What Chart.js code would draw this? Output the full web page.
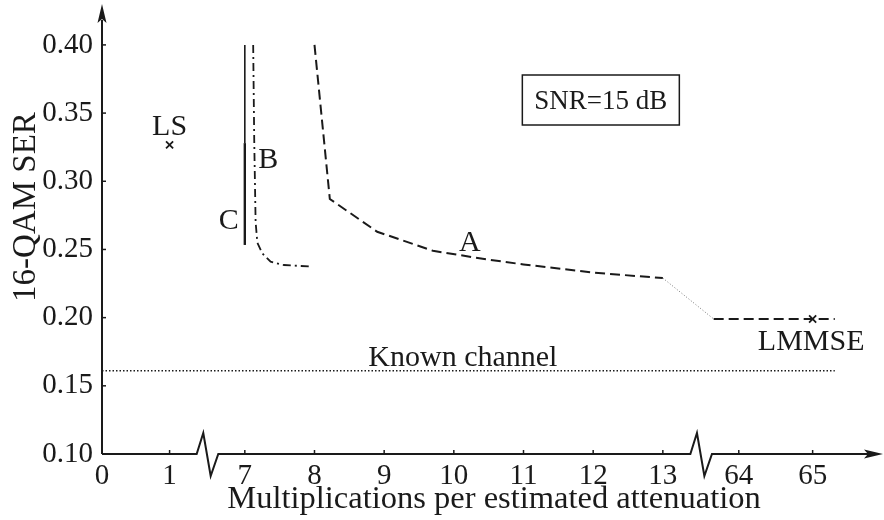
<!DOCTYPE html>
<html><head><meta charset="utf-8">
<script src="https://cdn.jsdelivr.net/npm/chart.js@4/dist/chart.umd.min.js"></script>
<style>html,body{margin:0;padding:0;background:#fff;}canvas{display:block;}</style>
</head><body>
<canvas id="c" width="884" height="520"></canvas>
<script>
// ---- data ----
const xTickValues = [0, 1, 7, 8, 9, 10, 11, 12, 13, 64, 65];
const yTickValues = [0.10, 0.15, 0.20, 0.25, 0.30, 0.35, 0.40];

const curveA_x = [8.0, 8.22, 8.9, 9.7, 10.5, 11, 12, 13];
const curveA_y = [0.400, 0.287, 0.263, 0.249, 0.2425, 0.239, 0.233, 0.229];

const curveB_x = [7.12, 7.135, 7.155, 7.18, 7.25, 7.37, 7.56, 7.93];
const curveB_y = [0.400, 0.330, 0.270, 0.255, 0.2472, 0.241, 0.2386, 0.2375];

const curveC_lower_x = [7, 7];
const curveC_lower_y = [0.2533, 0.328];
const curveC_upper_x = [7, 7];
const curveC_upper_y = [0.328, 0.400];

const gap_x = [13, 63.66];
const gap_y = [0.229, 0.199];

const lmmseLine_x = [63.66, 65.3];
const lmmseLine_y = [0.199, 0.199];

const lmmsePoint_x = [65];
const lmmsePoint_y = [0.199];

const lsPoint_x = [1];
const lsPoint_y = [0.3267];

const known_x = [0, 65.3];
const known_y = [0.161, 0.161];

// ---- broken-axis layout ----
const axisSegments = [
  {from: 0, to: 1, s0: 0, s1: 0.97},
  {from: 7, to: 13, s0: 2.05, s1: 8.05},
  {from: 64, to: 65, s0: 9.14, s1: 10.2}
];
const breakSlots = [1.514, 8.60];
function toSlot(x) {
  let best = axisSegments[0], bd = Infinity;
  for (const s of axisSegments) {
    const d = x < s.from ? s.from - x : (x > s.to ? x - s.to : 0);
    if (d < bd) { bd = d; best = s; }
  }
  return best.s0 + (x - best.from) * (best.s1 - best.s0) / (best.to - best.from);
}
const pts = (xs, ys) => xs.map((x, i) => ({x: toSlot(x), y: ys[i]}));
const tickSlots = xTickValues.map(toSlot);

const INK = '#1a1a1a';
const SERIF = '"Liberation Serif", "Times New Roman", serif';

const decor = {
  id: 'decor',
  beforeDatasetsDraw(chart) {
    const {ctx, chartArea: a, scales: {x, y}} = chart;
    ctx.save();
    ctx.strokeStyle = INK; ctx.fillStyle = INK; ctx.lineWidth = 2;
    ctx.lineJoin = 'miter';
    const L = a.left, B = a.bottom;
    // y axis
    ctx.beginPath(); ctx.moveTo(L, B); ctx.lineTo(L, a.top + 16); ctx.stroke();
    ctx.beginPath(); ctx.moveTo(L, a.top); ctx.lineTo(L - 4.5, a.top + 19); ctx.lineTo(L, a.top + 15);
    ctx.lineTo(L + 4.5, a.top + 19); ctx.closePath(); ctx.fill();
    // x axis with zig-zag breaks
    ctx.beginPath(); ctx.moveTo(L, B);
    for (const bs of breakSlots) {
      const px = x.getPixelForValue(bs);
      ctx.lineTo(px - 10.8, B); ctx.lineTo(px - 4.2, B - 21); ctx.lineTo(px + 3.2, B + 22); ctx.lineTo(px + 10.8, B);
    }
    ctx.lineTo(a.right - 14, B); ctx.stroke();
    const R = a.right;
    ctx.beginPath(); ctx.moveTo(R, B); ctx.lineTo(R - 19, B - 4.5); ctx.lineTo(R - 15, B);
    ctx.lineTo(R - 19, B + 4.5); ctx.closePath(); ctx.fill();
    // inward ticks
    ctx.lineWidth = 1.5;
    for (const v of yTickValues) {
      const py = y.getPixelForValue(v);
      ctx.beginPath(); ctx.moveTo(L, py); ctx.lineTo(L + 4, py); ctx.stroke();
    }
    for (const s of tickSlots) {
      const px = x.getPixelForValue(s);
      ctx.beginPath(); ctx.moveTo(px, B); ctx.lineTo(px, B - 4); ctx.stroke();
    }
    ctx.restore();
  },
  afterDatasetsDraw(chart) {
    const {ctx, chartArea: a, scales: {x, y}} = chart;
    const P = (xv, yv) => [x.getPixelForValue(toSlot(xv)), y.getPixelForValue(yv)];
    ctx.save();
    ctx.fillStyle = INK; ctx.strokeStyle = INK;
    ctx.textBaseline = 'alphabetic';
    const label = (t, xv, yv, size, align, dx) => {
      const [px, py] = P(xv, yv);
      ctx.font = size + 'px ' + SERIF;
      ctx.textAlign = align || 'center';
      ctx.fillText(t, px + (dx || 0), py);
    };
    label('LS', 1, 0.334, 30);
    label('B', 7.12, 0.3097, 30, 'left', 5);
    label('C', 7, 0.265, 30, 'right', -6);
    label('A', 10.23, 0.2489, 30);
    label('Known channel', 10.13, 0.1645, 30);
    label('LMMSE', 64.98, 0.1763, 30);
    // SNR box
    const [bx, by] = P(12.11, 0.3596);
    ctx.lineWidth = 1.5;
    ctx.strokeRect(bx - 78.5, by - 25, 157, 50);
    ctx.font = '27px ' + SERIF; ctx.textAlign = 'center';
    ctx.fillText('SNR=15 dB', bx, by + 9);
    // axis titles
    ctx.font = '32.5px ' + SERIF;
    ctx.fillText('Multiplications per estimated attenuation', 494, 508);
    ctx.font = '33px ' + SERIF;
    ctx.translate(35, 207); ctx.rotate(-Math.PI / 2);
    ctx.fillText('16-QAM SER', 0, 0);
    ctx.restore();
  }
};

const base = {showLine: true, pointRadius: 0, borderColor: INK, backgroundColor: INK, tension: 0, fill: false};

new Chart(document.getElementById('c'), {
  type: 'scatter',
  data: {
    datasets: [
      Object.assign({}, base, {label: 'A', data: pts(curveA_x, curveA_y), borderWidth: 2, borderDash: [10, 5]}),
      Object.assign({}, base, {label: 'A gap', data: pts(gap_x, gap_y), borderWidth: 1, borderDash: [1, 2], borderColor: '#777'}),
      Object.assign({}, base, {label: 'LMMSE line', data: pts(lmmseLine_x, lmmseLine_y), borderWidth: 2, borderDash: [10, 5]}),
      Object.assign({}, base, {label: 'B', data: pts(curveB_x, curveB_y), borderWidth: 1.8, borderDash: [8, 4, 2, 4]}),
      Object.assign({}, base, {label: 'C lower', data: pts(curveC_lower_x, curveC_lower_y), borderWidth: 2.4}),
      Object.assign({}, base, {label: 'C upper', data: pts(curveC_upper_x, curveC_upper_y), borderWidth: 1.6}),
      Object.assign({}, base, {label: 'Known channel', data: pts(known_x, known_y), borderWidth: 1.6, borderDash: [1.5, 2]}),
      {label: 'LMMSE', data: pts(lmmsePoint_x, lmmsePoint_y), showLine: false, pointStyle: 'crossRot', pointRadius: 5, borderWidth: 1.8, borderColor: INK},
      {label: 'LS', data: pts(lsPoint_x, lsPoint_y), showLine: false, pointStyle: 'crossRot', pointRadius: 5, borderWidth: 1.8, borderColor: INK}
    ]
  },
  options: {
    responsive: false,
    animation: false,
    layout: {autoPadding: false, padding: {top: 4, right: 1, left: 0, bottom: 0}},
    plugins: {legend: {display: false}, tooltip: {enabled: false}},
    scales: {
      x: {
        type: 'linear', min: 0, max: 11.21,
        border: {display: false},
        grid: {display: false, drawTicks: false, tickLength: 0},
        afterBuildTicks: s => { s.ticks = tickSlots.map(v => ({value: v})); },
        afterFit: s => { s.height = 66; s.paddingLeft = 0; s.paddingRight = 0; },
        ticks: {
          autoSkip: false, maxRotation: 0, padding: 5, color: INK,
          font: {family: SERIF, size: 29},
          callback: (v) => { const i = tickSlots.findIndex(t => Math.abs(t - v) < 1e-6); return i >= 0 ? String(xTickValues[i]) : ''; }
        }
      },
      y: {
        type: 'linear', min: 0.10, max: 0.43,
        border: {display: false},
        grid: {display: false, drawTicks: false, tickLength: 0},
        afterBuildTicks: s => { s.ticks = yTickValues.map(v => ({value: v})); },
        afterFit: s => { s.width = 102; s.paddingTop = 0; s.paddingBottom = 0; },
        ticks: {
          autoSkip: false, padding: 9, color: INK,
          font: {family: SERIF, size: 29},
          callback: v => Number(v).toFixed(2)
        }
      }
    }
  },
  plugins: [decor]
});
</script>
</body></html>
